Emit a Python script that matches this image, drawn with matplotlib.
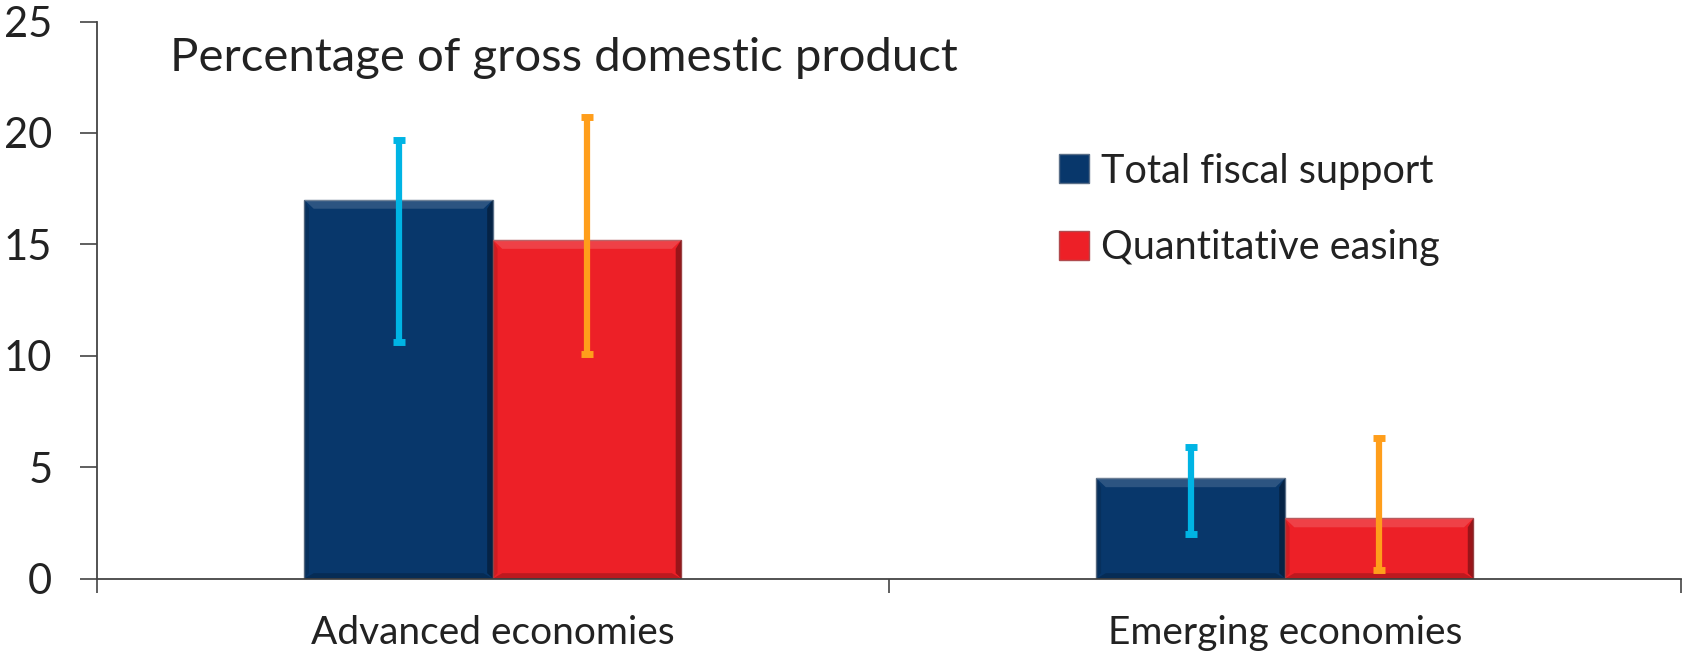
import numpy as np
import matplotlib.pyplot as plt
from matplotlib.patches import Polygon

plt.rcParams['font.family'] = ['Lato', 'DejaVu Sans']

# data
categories = ['Advanced economies', 'Emerging economies']
series_names = ['Total fiscal support', 'Quantitative easing']
fiscal = [17.0, 4.5]
qe = [15.2, 2.7]
fiscal_low = [10.6, 2.0]
fiscal_high = [19.7, 5.9]
qe_low = [10.1, 0.4]
qe_high = [20.7, 6.3]

bar_colors = ['#08376B', '#ED2027']
err_colors = ['#00B4E4', '#FF9E1B']

fig = plt.figure(figsize=(16.86, 6.54), dpi=100)
ax = fig.add_axes([0.0574, 0.1154, 0.9396, 0.8516])

x = np.arange(len(categories))
w = 0.238

def bevel(ax, bars):
    # rough imitation of the bevelled bar look
    for b in bars:
        x0, y0 = b.get_x(), b.get_y()
        x1, y1 = x0 + b.get_width(), y0 + b.get_height()
        dx = b.get_width() * 0.05
        dy = 0.4
        top = Polygon([[x0, y1], [x1, y1], [x1 - dx, y1 - dy], [x0 + dx, y1 - dy]],
                      closed=True, facecolor='white', alpha=0.15, lw=0, zorder=3)
        right = Polygon([[x1, y1], [x1, y0], [x1 - dx * 0.6, y0 + dy * 0.6], [x1 - dx * 0.6, y1 - dy]],
                        closed=True, facecolor='black', alpha=0.35, lw=0, zorder=3)
        bottom = Polygon([[x0, y0], [x1, y0], [x1 - dx, y0 + dy * 0.6], [x0 + dx, y0 + dy * 0.6]],
                         closed=True, facecolor='black', alpha=0.2, lw=0, zorder=3)
        left = Polygon([[x0, y0], [x0, y1], [x0 + dx * 0.5, y1 - dy], [x0 + dx * 0.5, y0 + dy * 0.6]],
                       closed=True, facecolor='black', alpha=0.12, lw=0, zorder=3)
        for p in (top, right, bottom, left):
            ax.add_patch(p)

b1 = ax.bar(x - w / 2, fiscal, w, color=bar_colors[0], edgecolor='#5a6f88', lw=1,
            label=series_names[0], zorder=2)
b2 = ax.bar(x + w / 2, qe, w, color=bar_colors[1], edgecolor='#b04a4e', lw=1,
            label=series_names[1], zorder=2)
bevel(ax, b1)
bevel(ax, b2)

# error bars (range low..high)
f_mid = (np.array(fiscal_low) + np.array(fiscal_high)) / 2
f_err = (np.array(fiscal_high) - np.array(fiscal_low)) / 2
q_mid = (np.array(qe_low) + np.array(qe_high)) / 2
q_err = (np.array(qe_high) - np.array(qe_low)) / 2
ax.errorbar(x - w / 2, f_mid, yerr=f_err, fmt='none', ecolor=err_colors[0],
            elinewidth=4.5, capsize=4.5, capthick=5, zorder=4)
ax.errorbar(x + w / 2, q_mid, yerr=q_err, fmt='none', ecolor=err_colors[1],
            elinewidth=4.5, capsize=4.5, capthick=5, zorder=4)

ax.set_xlim(-0.5, 1.5)
ax.set_ylim(0, 25)
ax.set_yticks([0, 5, 10, 15, 20, 25])
ax.set_xticks(x)
ax.set_xticklabels(categories)
ax.set_xticks([-0.5, 0.5, 1.5], minor=True)
ax.tick_params(axis='x', which='major', length=0, labelsize=28, pad=26, colors='#222222')
ax.tick_params(axis='x', which='minor', length=10, width=1.2, color='#444444', direction='out')
ax.tick_params(axis='y', length=12, width=1.2, color='#444444', labelsize=30, pad=20,
               labelcolor='#222222')

for s in ['top', 'right']:
    ax.spines[s].set_visible(False)
for s in ['left', 'bottom']:
    ax.spines[s].set_color('#444444')
    ax.spines[s].set_linewidth(1.3)

ax.text(0.046, 0.935, 'Percentage of gross domestic product', transform=ax.transAxes,
        fontsize=34, color='#222222', va='center', ha='left')

leg = ax.legend(loc='upper left', bbox_to_anchor=(0.595, 0.80), frameon=False,
                fontsize=28.5, handlelength=0.75, handleheight=0.75, handletextpad=0.3,
                labelspacing=1.0, borderpad=0, labelcolor='#222222')

fig.savefig('out.png', dpi=100)
